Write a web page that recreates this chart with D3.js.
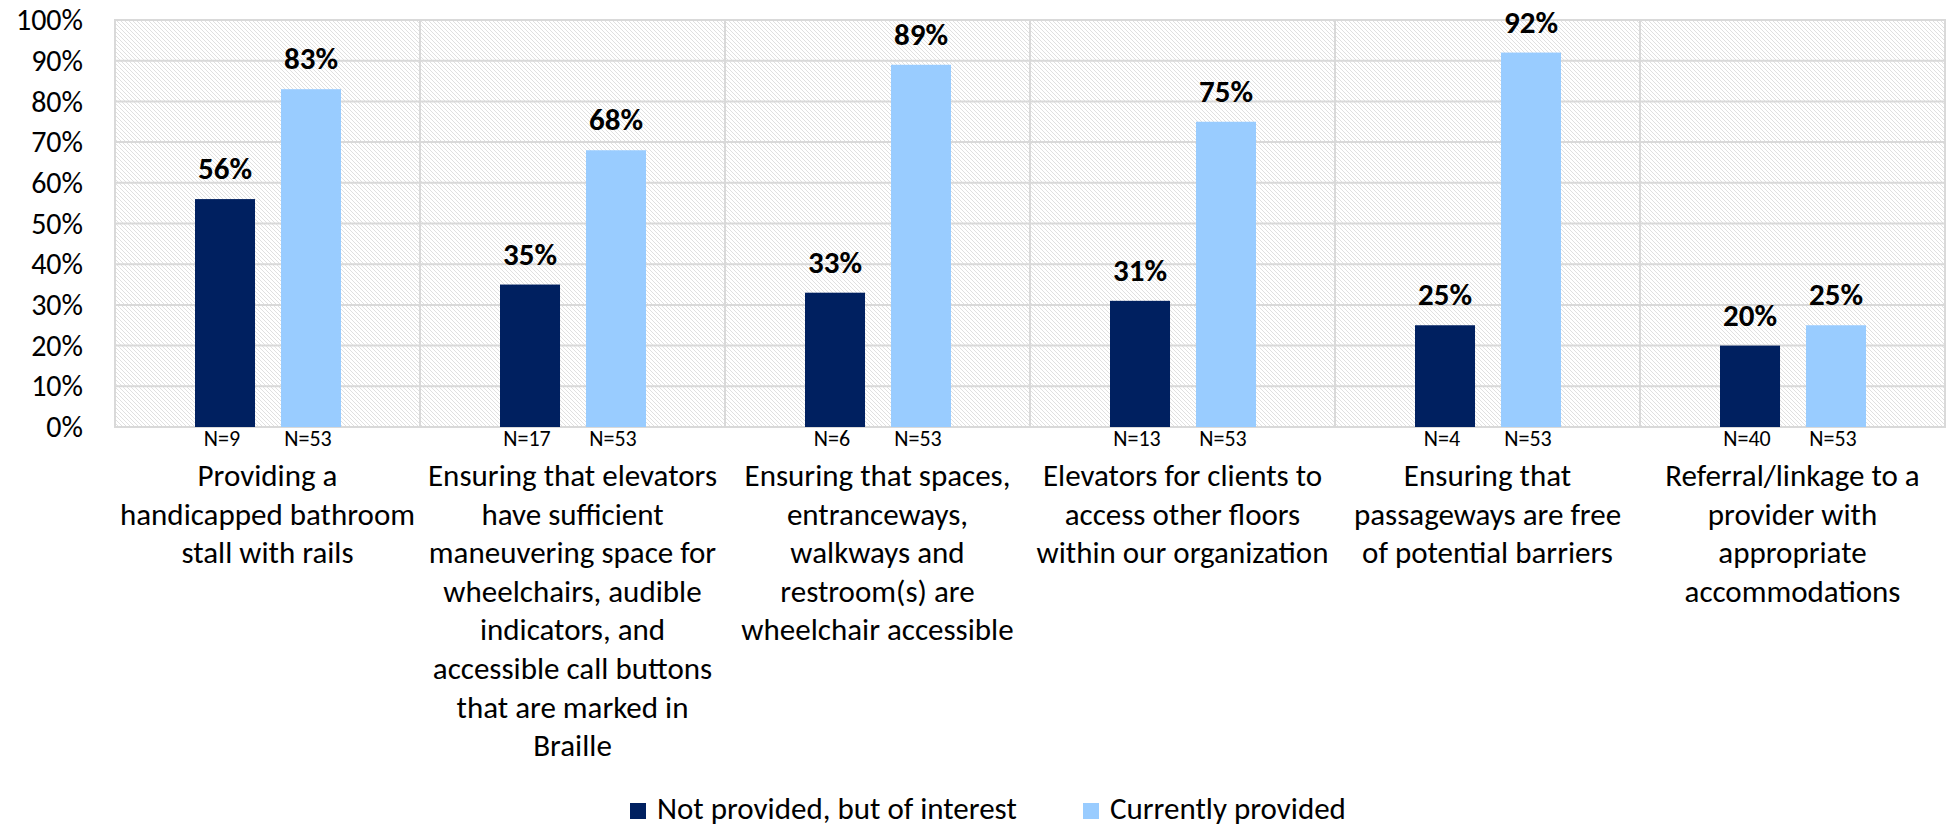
<!DOCTYPE html>
<html>
<head>
<meta charset="utf-8">
<script src="https://cdn.jsdelivr.net/npm/d3@7"></script>
<style>
  html, body { margin: 0; padding: 0; background: #fff; }
  svg { display: block; font-family: Carlito, Calibri, Lato, sans-serif; }
</style>
</head>
<body>
<svg id="chart" width="1949" height="826"></svg>
<script>
// Accessibility services: share of respondents, by service
const categories = [
  ["Providing a", "handicapped bathroom", "stall with rails"],
  ["Ensuring that elevators", "have sufficient", "maneuvering space for", "wheelchairs, audible", "indicators, and", "accessible call buttons", "that are marked in", "Braille"],
  ["Ensuring that spaces,", "entranceways,", "walkways and", "restroom(s) are", "wheelchair accessible"],
  ["Elevators for clients to", "access other floors", "within our organization"],
  ["Ensuring that", "passageways are free", "of potential barriers"],
  ["Referral/linkage to a", "provider with", "appropriate", "accommodations"]
];
const seriesNames = ["Not provided, but of interest", "Currently provided"];
const notProvided = [56, 35, 33, 31, 25, 20];
const currentlyProvided = [83, 68, 89, 75, 92, 25];
const nNotProvided = [9, 17, 6, 13, 4, 40];
const nCurrentlyProvided = [53, 53, 53, 53, 53, 53];
const yTicks = [0, 10, 20, 30, 40, 50, 60, 70, 80, 90, 100];

const colors = ["#002060", "#99CCFF"];
const gridColor = "#d9d9d9";

const svg = d3.select("#chart");
const plot = { left: 115, right: 1945, top: 20, bottom: 427 };

const x0 = d3.scaleBand()
  .domain(d3.range(categories.length))
  .range([plot.left, plot.right])
  .padding(0);
const x1 = d3.scaleBand()
  .domain([0, 1])
  .range([80, 226])
  .paddingInner(0.302);
const y = d3.scaleLinear().domain([0, 100]).range([plot.bottom, plot.top]);

// Hatched plot background
const defs = svg.append("defs");
const pat = defs.append("pattern")
  .attr("id", "hatch")
  .attr("patternUnits", "userSpaceOnUse")
  .attr("width", 4).attr("height", 4);
pat.append("rect").attr("width", 4).attr("height", 4).attr("fill", "#ffffff");
pat.append("path")
  .attr("d", "M-1,-1 L5,5 M-1,3 L1,5 M3,-1 L5,1")
  .attr("stroke", "#e0e0e0")
  .attr("stroke-width", 1);

svg.append("rect")
  .attr("x", plot.left).attr("y", plot.top)
  .attr("width", plot.right - plot.left)
  .attr("height", plot.bottom - plot.top)
  .attr("fill", "url(#hatch)");

// Horizontal gridlines
svg.append("g")
  .selectAll("line")
  .data(yTicks)
  .join("line")
  .attr("x1", plot.left).attr("x2", plot.right)
  .attr("y1", d => y(d)).attr("y2", d => y(d))
  .attr("stroke", gridColor).attr("stroke-width", 2);

// Vertical category separators
const seps = d3.range(categories.length).map(i => x0(i)).concat([plot.right]);
svg.append("g")
  .selectAll("line")
  .data(seps)
  .join("line")
  .attr("x1", d => d).attr("x2", d => d)
  .attr("y1", plot.top - 1).attr("y2", plot.bottom + 1)
  .attr("stroke", gridColor).attr("stroke-width", 2);

// Y axis labels
const yAxis = d3.axisLeft(y)
  .tickValues(yTicks)
  .tickFormat(d => d + "%")
  .tickSize(0)
  .tickPadding(32);
const yg = svg.append("g")
  .attr("transform", `translate(${plot.left},0)`)
  .call(yAxis);
yg.select(".domain").remove();
yg.selectAll("text")
  .attr("font-family", "Carlito, Calibri, Lato, sans-serif")
  .attr("font-size", 30)
  .attr("fill", "#000");

// Bars
const rows = categories.map((c, i) => ({
  i,
  values: [notProvided[i], currentlyProvided[i]],
  ns: [nNotProvided[i], nCurrentlyProvided[i]]
}));

const groups = svg.append("g")
  .selectAll("g")
  .data(rows)
  .join("g")
  .attr("transform", d => `translate(${x0(d.i)},0)`);

const cells = groups.selectAll("g")
  .data(d => d.values.map((v, s) => ({ s, v, n: d.ns[s] })))
  .join("g");

cells.append("rect")
  .attr("x", d => x1(d.s))
  .attr("width", x1.bandwidth())
  .attr("y", d => y(d.v))
  .attr("height", d => y(0) - y(d.v))
  .attr("fill", d => colors[d.s]);

cells.append("text")
  .attr("x", d => x1(d.s) + x1.bandwidth() / 2)
  .attr("y", d => y(d.v) - 20)
  .attr("text-anchor", "middle")
  .attr("font-size", 31)
  .attr("font-weight", "bold")
  .attr("fill", "#000")
  .text(d => d.v + "%");

cells.append("text")
  .attr("x", d => x1(d.s) + x1.bandwidth() / 2 - 3)
  .attr("y", plot.bottom + 19)
  .attr("text-anchor", "middle")
  .attr("font-size", 22)
  .attr("fill", "#000")
  .text(d => "N=" + d.n);

// Category labels
groups.append("text")
  .attr("text-anchor", "middle")
  .attr("font-size", 31)
  .attr("fill", "#000")
  .selectAll("tspan")
  .data(d => categories[d.i])
  .join("tspan")
  .attr("x", x0.bandwidth() / 2)
  .attr("y", (d, k) => 486 + k * 38.6)
  .text(d => d);

// Legend
const legendPos = [630, 1083];
const legend = svg.append("g")
  .selectAll("g")
  .data(seriesNames)
  .join("g")
  .attr("transform", (d, i) => `translate(${legendPos[i]},0)`);
legend.append("rect")
  .attr("x", 0).attr("y", 803)
  .attr("width", 16).attr("height", 16)
  .attr("fill", (d, i) => colors[i]);
legend.append("text")
  .attr("x", 27).attr("y", 819)
  .attr("font-size", 31)
  .attr("fill", "#000")
  .text(d => d);
</script>
</body>
</html>
